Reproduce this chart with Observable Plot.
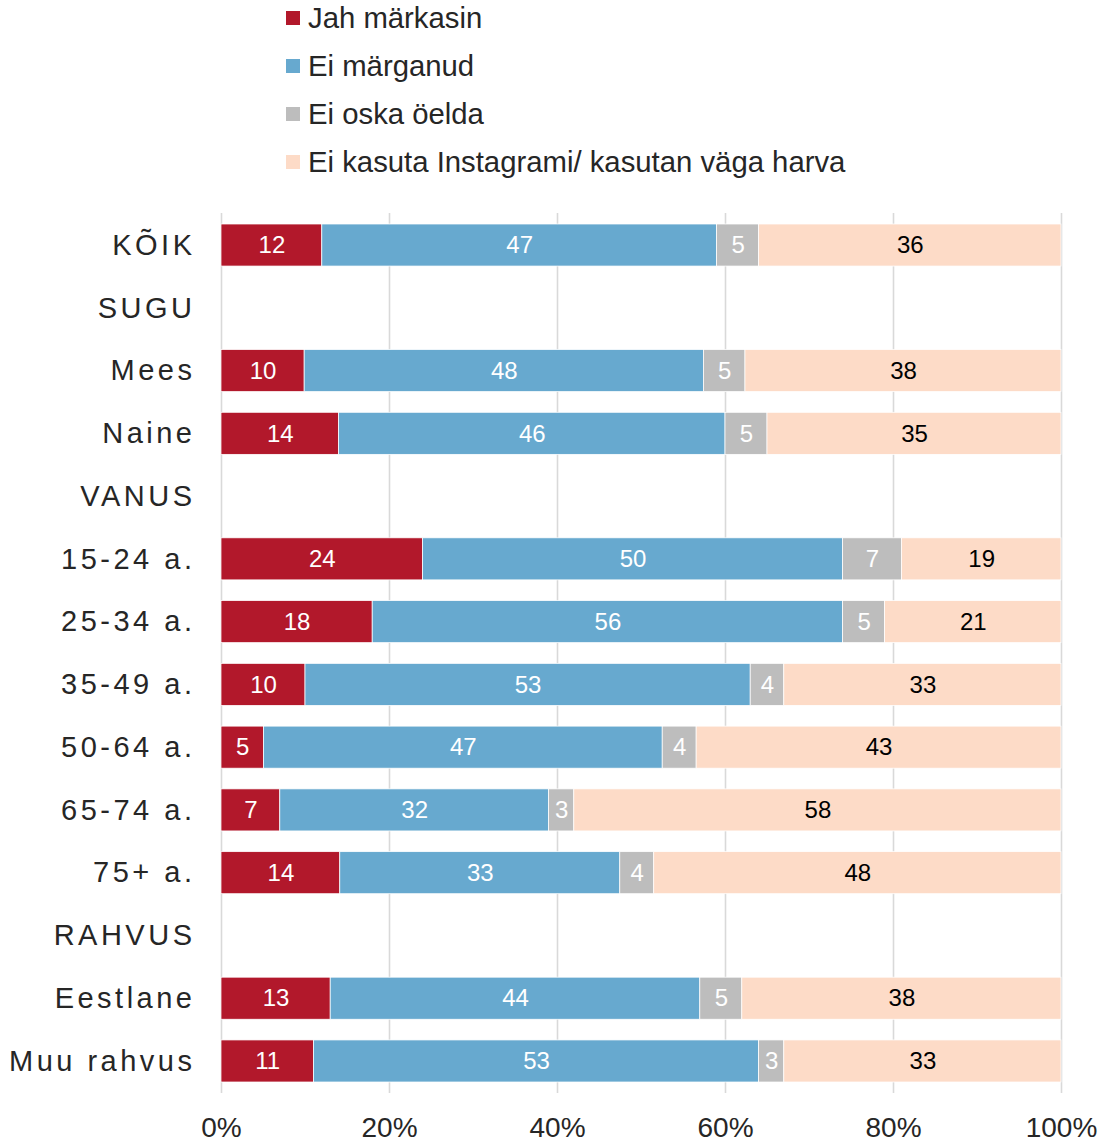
<!DOCTYPE html>
<html>
<head>
<meta charset="utf-8">
<script src="https://cdn.jsdelivr.net/npm/d3@7"></script>
<script src="https://cdn.jsdelivr.net/npm/@observablehq/plot@0.6"></script>
<style>
  html, body { margin: 0; padding: 0; background: #fff; }
  body { width: 1107px; height: 1142px; overflow: hidden; font-family: "Liberation Sans", Arial, sans-serif; }
  #legend { position: relative; height: 190px; width: 1107px; }
  .item { position: absolute; left: 286px; height: 48px; display: flex; align-items: center; font-size: 29.3px; color: #262626; white-space: nowrap; }
  .sw { width: 14px; height: 14px; margin-right: 8px; display: inline-block; }
  g[aria-label="y-axis tick label"] text { letter-spacing: 3.5px; }
</style>
</head>
<body>
<div id="legend"></div>
<div id="chart"></div>
<script>
const categories = ["KÕIK","SUGU","Mees","Naine","VANUS","15-24 a.","25-34 a.","35-49 a.","50-64 a.","65-74 a.","75+ a.","RAHVUS","Eestlane","Muu rahvus"];
const series = ["Jah märkasin","Ei märganud","Ei oska öelda","Ei kasuta Instagrami/ kasutan väga harva"];
const colors = ["#B2182B","#67A9CF","#BDBDBD","#FDDBC7"];
const labelColors = ["#ffffff","#ffffff","#ffffff","#000000"];
const jahMarkasin   = [12,null,10,14,null,24,18,10,5,7,14,null,13,11];
const eiMarganud    = [47,null,48,46,null,50,56,53,47,32,33,null,44,53];
const eiOskaOelda   = [5,null,5,5,null,7,5,4,4,3,4,null,5,3];
const eiKasuta      = [36,null,38,35,null,19,21,33,43,58,48,null,38,33];
const xTicks = [0,0.2,0.4,0.6,0.8,1];

const seriesValues = [jahMarkasin, eiMarganud, eiOskaOelda, eiKasuta];
const data = [];
categories.forEach((c, i) => {
  seriesValues.forEach((vals, s) => {
    if (vals[i] != null) data.push({cat: c, series: series[s], value: vals[i]});
  });
});

// Legend
const legend = document.getElementById("legend");
series.forEach((s, i) => {
  const d = document.createElement("div");
  d.className = "item";
  d.style.top = (18 + 48 * i - 24) + "px";
  const sw = document.createElement("span");
  sw.className = "sw";
  sw.style.background = colors[i];
  d.appendChild(sw);
  d.appendChild(document.createTextNode(s));
  legend.appendChild(d);
});

const stackOpts = {x: "value", y: "cat", z: "series", offset: "normalize", order: series};

const chart = Plot.plot({
  width: 1107,
  height: 952,
  marginLeft: 221,
  marginRight: 46,
  marginTop: 23,
  marginBottom: 49,
  style: {fontFamily: '"Liberation Sans", Arial, sans-serif', background: "#fff", color: "#262626"},
  x: {domain: [0, 1], label: null},
  y: {domain: categories, range: [34, 892], paddingInner: 0.33, paddingOuter: 0, round: false, label: null},
  color: {domain: series, range: colors},
  marks: [
    Plot.gridX(xTicks, {stroke: "#d9d9d9", strokeOpacity: 1, strokeWidth: 1.6}),
    Plot.barX(data, Plot.stackX({...stackOpts, fill: "series", stroke: "white", strokeWidth: 0.75})),
    Plot.text(data, Plot.stackX({...stackOpts, text: d => String(d.value), fill: d => labelColors[series.indexOf(d.series)], fontSize: 24})),
    Plot.axisX(xTicks, {tickSize: 0, tickPadding: 24, fontSize: 28, label: null, tickFormat: d => Math.round(d * 100) + "%", fill: "#262626"}),
    Plot.axisY({tickSize: 0, tickPadding: 26, fontSize: 29, label: null, fill: "#262626"})
  ]
});
document.getElementById("chart").appendChild(chart);
</script>
</body>
</html>
